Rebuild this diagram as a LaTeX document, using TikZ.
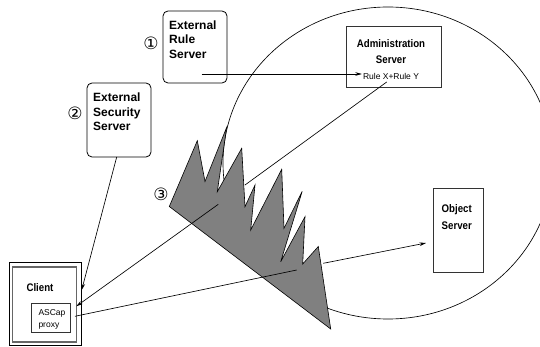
\documentclass[tikz,border=0pt]{standalone}
\usepackage{fontspec}
\usepackage{graphicx}
\setmainfont{Liberation Sans}
\newfontfamily\circfont{DejaVu Sans}
\usetikzlibrary{arrows.meta,calc}
\newcommand{\narrowtxt}[1]{\scalebox{0.88}[1]{#1}}
\definecolor{wallgray}{RGB}{128,128,128}
\begin{document}
\begin{tikzpicture}[x=1pt,y=-1pt,
  conn/.style={line width=0.65pt},
  tip/.style={-{Stealth[length=6.5pt,width=3.6pt]}},
  rbox/.style={draw, line width=0.8pt, rounded corners=5pt, inner sep=0pt},
  sbox/.style={draw=black!80, line width=0.8pt, inner sep=0pt},
  extlabel/.style={font=\bfseries\fontsize{12}{14.5}\selectfont, align=left, inner sep=0pt, anchor=north west},
  srvlabel/.style={font=\bfseries\fontsize{11}{16}\selectfont, inner sep=0pt},
  smalllabel/.style={font=\fontsize{8.5}{12.3}\selectfont, inner sep=1pt},
  marker/.style={font=\circfont\fontsize{17}{17}\selectfont, inner sep=0pt}
]
\useasboundingbox (0,0) rectangle (540,347);

% domain boundary, cut off at the right edge
\begin{scope}
  \clip (0,0) rectangle (540,347);
  \draw[conn] (388,163) ellipse [x radius=165, y radius=156];
\end{scope}

% servers
\node[rbox, minimum width=64pt, minimum height=72pt] (rule) at (195,47) {};
\node[extlabel] (ruletxt) at (169,20.5) {External\\Rule\\Server};
\node[marker] (m1) at (151,43.3) {①};

\node[rbox, minimum width=64pt, minimum height=74pt] (sec) at (119,120) {};
\node[extlabel] (sectxt) at (93,93) {External\\Security\\Server};
\node[marker] (m2) at (75,113.3) {②};

\node[sbox, minimum width=95pt, minimum height=61pt] (admin) at (393.5,56.5) {};
\node[srvlabel, align=center, anchor=north] (admintxt) at (391,39) {\narrowtxt{Administration}\\\narrowtxt{Server}};
\node[smalllabel] (rules) at (391,76) {Rule X+Rule Y};

\node[sbox, minimum width=50pt, minimum height=84pt] (obj) at (458,230) {};
\node[srvlabel, align=left, anchor=north west, font=\bfseries\fontsize{11}{17.7}\selectfont] (objtxt) at (441.5,204) {\narrowtxt{Object}\\\narrowtxt{Server}};

% client with its proxy
\node[draw, line width=0.6pt, minimum width=72.4pt, minimum height=83.3pt, inner sep=0pt] (client) at (45.5,303.7) {};
\node[draw=black!60, line width=1.2pt, minimum width=64pt, minimum height=75pt, inner sep=0pt] (clientin) at (44.7,304.5) {};
\node[srvlabel] (clienttxt) at (40,287.7) {\narrowtxt{Client}};
\node[draw=black!80, line width=0.7pt, minimum width=38.3pt, minimum height=28.3pt, inner sep=0pt] (proxy) at (50.8,317.8) {};
\node[smalllabel, align=left, anchor=north west, inner sep=0pt] (proxytxt) at (38.3,309.5) {ASCap\\proxy};

% connector end points
\coordinate (ruleout) at (201.7,74);
\coordinate (adminout) at (386.7,82);
\coordinate (fwA) at (245,185);
\coordinate (fwB) at (218.3,204.3);
\coordinate (cliA) at (76.3,306.3);
\coordinate (secout) at (116.7,157);
\coordinate (cliS) at (81.7,290);
\coordinate (proxyout) at (75,316.3);
\coordinate (fwC) at (296.7,270);
\coordinate (fwD) at (323.3,263.3);
\coordinate (objin) at (426,243);

% connectors that pass behind the firewall
\draw[conn, tip] (ruleout) -- (ruleout -| rules.west);
\draw[conn] (adminout) -- (fwA);
\draw[conn, tip] (fwD) -- (objin);
\draw[conn, tip] (secout) -- (cliS);

% firewall
\draw[line width=0.6pt, fill=wallgray]
  (169.3,206.5) -- (197.3,140.7) -- (205,181.5) -- (226.7,127.3) -- (217.3,191.7)
  -- (241.7,148.3) -- (245,206.7) -- (255,185) -- (250.7,230) -- (281.7,169.3)
  -- (284,228.3) -- (302.2,191.3) -- (280.7,261.7) -- (305,216.7) -- (302.7,264)
  -- (318.3,246.5) -- (330.7,329) -- cycle;
\node[marker] (m3) at (161,194) {③};

% connectors drawn over the firewall
\draw[conn, tip] (fwB) -- (cliA);
\draw[conn] (proxyout) -- (fwC);
\end{tikzpicture}
\end{document}
